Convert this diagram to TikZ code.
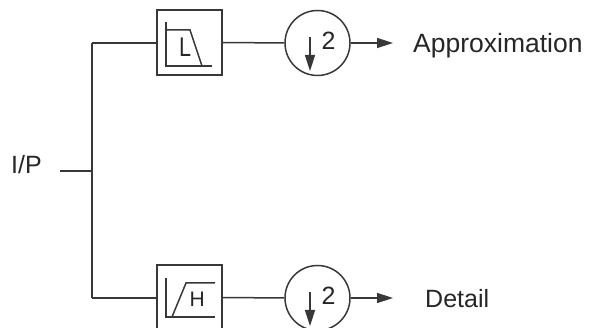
\documentclass[tikz,border=0pt]{standalone}
\usepackage{fontspec}
\setmainfont{Liberation Sans}
\usetikzlibrary{arrows.meta,calc}
\definecolor{ink}{HTML}{383838}
\definecolor{txt}{HTML}{262626}
\begin{document}
\begin{tikzpicture}[x=1pt,y=-1pt,
  wire/.style={draw=ink,line width=1.5pt},
  filterbox/.style={draw=ink,line width=1.5pt,minimum size=65pt,inner sep=0pt},
  downsampler/.style={circle,draw=ink,line width=1.5pt,minimum size=65pt,inner sep=0pt},
  lbl/.style={text=txt,font=\fontsize{25}{30}\selectfont,inner sep=0pt},
  sig/.style={wire,-{Triangle[length=16pt,width=10pt]}},
  drop/.style={wire,-{Triangle[length=16pt,width=10pt]}},
]
\useasboundingbox (0,0) rectangle (589,328);

% input and split point
\node[lbl,anchor=base west] (ip) at (11,174) {I/P};
\coordinate (ipstub) at (60,171);
\coordinate (split) at (92,171);
\coordinate (ctop) at (92,43);
\coordinate (cbot) at (92,298);

% filters and downsamplers
\node[filterbox] (lpf) at (189.5,42.5) {};
\node[filterbox] (hpf) at (189.5,297.5) {};
\node[downsampler] (dsA) at (317.5,43) {};
\node[downsampler] (dsD) at (317.5,298) {};

% outputs
\node[lbl,anchor=base west,font=\fontsize{26.5}{30}\selectfont] (approx) at (413,53) {Approximation};
\node[lbl,anchor=base west] (detail) at (425,308) {Detail};

% wiring
\draw[wire] (ipstub) -- (split);
\draw[wire] (ctop) -- (cbot);
\draw[wire] (ctop) -- (ctop -| lpf.west);
\draw[wire] (cbot) -- (cbot -| hpf.west);
\draw[wire] (lpf) -- (dsA);
\draw[wire] (hpf) -- (dsD);
\draw[sig,shorten >=20pt] (dsA) -- (approx.west |- dsA);
\draw[sig,shorten >=32pt] (dsD) -- (detail.west |- dsD);

% low-pass icon
\draw[wire] ([shift={(-23.5,-20.5)}]lpf.center) -- ([shift={(-23.5,23.5)}]lpf.center) -- ([shift={(22.5,23.5)}]lpf.center);
\draw[wire] ([shift={(-23.5,-12.5)}]lpf.center) -- ([shift={(0.5,-12.5)}]lpf.center) -- ([shift={(12.5,23.5)}]lpf.center);
\node[lbl,anchor=base west] (lmark) at ([shift={(-10.5,14.5)}]lpf.center) {\scalebox{0.8}[1]{\fontsize{27}{30}\selectfont L}};

% high-pass icon
\draw[wire] ([shift={(-23.5,-19.5)}]hpf.center) -- ([shift={(-23.5,19.5)}]hpf.center) -- ([shift={(25.5,19.5)}]hpf.center);
\draw[wire] ([shift={(-17.5,19.5)}]hpf.center) -- ([shift={(-3.5,-14.5)}]hpf.center) -- ([shift={(25.5,-14.5)}]hpf.center);
\node[lbl,anchor=base west] (hmark) at ([shift={(0,9.5)}]hpf.center) {\fontsize{21}{24}\selectfont H};

% downsample-by-two symbols
\draw[drop] ([shift={(-7.5,-6)}]dsA.center) -- ([shift={(-7.5,28)}]dsA.center);
\node[lbl,anchor=base] (twoA) at ([shift={(11,7)}]dsA.center) {2};
\draw[drop] ([shift={(-7.5,-6)}]dsD.center) -- ([shift={(-7.5,28)}]dsD.center);
\node[lbl,anchor=base] (twoD) at ([shift={(11,7)}]dsD.center) {2};
\end{tikzpicture}
\end{document}
